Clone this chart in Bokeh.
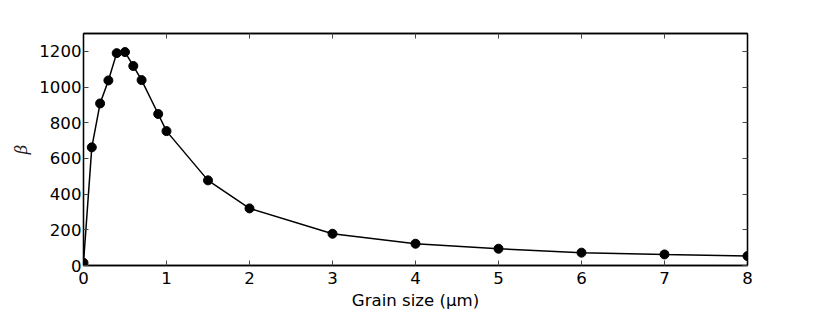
from bokeh.plotting import figure
from bokeh.models import Range1d, LinearAxis, FixedTicker
from bokeh.embed import file_html
from bokeh.resources import INLINE

grain_size = [0, 0.1, 0.2, 0.3, 0.4, 0.5, 0.6, 0.7, 0.9, 1.0, 1.5, 2, 3, 4, 5, 6, 7, 8]
beta = [15, 662, 908, 1037, 1190, 1196, 1118, 1039, 849, 753, 477, 320, 178, 122, 94, 72, 62, 53]
x_ticks = [0, 1, 2, 3, 4, 5, 6, 7, 8]
y_ticks = [0, 200, 400, 600, 800, 1000, 1200]

FONT = "DejaVu Sans"
FS = "16.6px"

p = figure(width=830, height=332, x_range=Range1d(0, 8), y_range=Range1d(0, 1300),
           output_backend="svg", toolbar_location=None,
           min_border_left=83, min_border_right=83, min_border_top=33, min_border_bottom=67)
p.xgrid.visible = False
p.ygrid.visible = False
p.outline_line_color = "black"
p.outline_line_width = 1.3
p.background_fill_color = "white"
p.border_fill_color = "white"

def style(ax, ticks, labels=True):
    ax.ticker = FixedTicker(ticks=ticks)
    ax.major_tick_in = 5
    ax.major_tick_out = 0
    ax.minor_tick_line_color = None
    ax.major_tick_line_color = "#444444"
    ax.major_tick_line_width = 1
    ax.axis_line_color = "black"
    ax.axis_line_width = 1.3
    ax.major_label_text_font = FONT
    ax.major_label_text_font_size = FS
    if labels:
        ax.major_label_text_color = "black"
    else:
        ax.major_label_text_color = None
        ax.major_label_standoff = 0

style(p.xaxis[0], x_ticks)
style(p.yaxis[0], y_ticks)
p.xaxis[0].major_label_standoff = 6
p.yaxis[0].major_label_standoff = 2

p.xaxis[0].axis_label = "Grain size (μm)"
p.xaxis[0].axis_label_text_font = FONT
p.xaxis[0].axis_label_text_font_style = "normal"
p.xaxis[0].axis_label_text_font_size = FS
p.xaxis[0].axis_label_text_color = "black"
p.xaxis[0].axis_label_standoff = 4

p.yaxis[0].axis_label = "β"
p.yaxis[0].axis_label_text_font = "DejaVu Serif"
p.yaxis[0].axis_label_text_font_style = "italic"
p.yaxis[0].axis_label_text_font_size = FS
p.yaxis[0].axis_label_text_color = "#222222"
p.yaxis[0].axis_label_standoff = 5

top_ax = LinearAxis()
right_ax = LinearAxis()
style(top_ax, x_ticks, labels=False)
style(right_ax, y_ticks, labels=False)
p.add_layout(top_ax, "above")
p.add_layout(right_ax, "right")

p.line(grain_size, beta, line_color="black", line_width=1.5)
p.scatter(grain_size, beta, size=9, fill_color="black", line_color="black")

open("out.html", "w").write(file_html(p, INLINE))
